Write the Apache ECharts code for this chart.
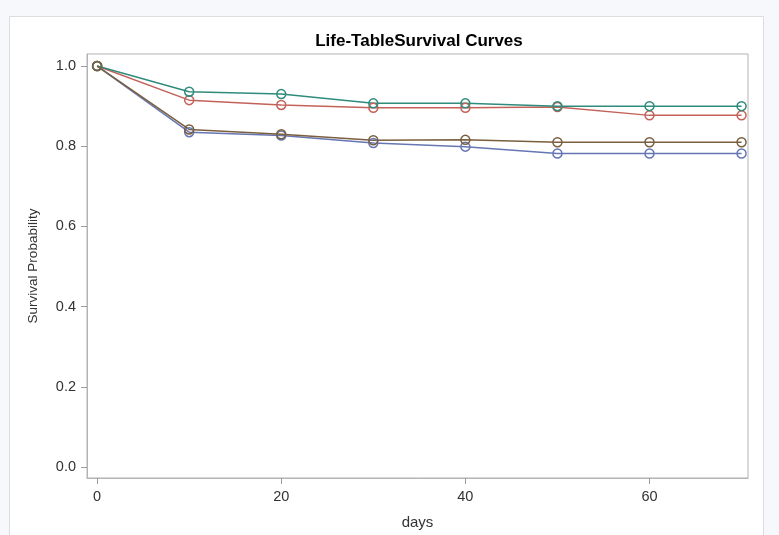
<!DOCTYPE html>
<html>
<head>
<meta charset="utf-8">
<script src="https://cdn.jsdelivr.net/npm/echarts@6/dist/echarts.min.js"></script>
<style>
html,body{margin:0;padding:0;background:#f7f8fb;}
#chart{width:779px;height:535px;}
</style>
</head>
<body>
<div id="chart"></div>
<script>
// Data
const days = [0, 10, 20, 30, 40, 50, 60, 70];
const seriesNames = ['Stratum 1', 'Stratum 2', 'Stratum 3', 'Stratum 4'];
const survBlue  = [1.0, 0.835, 0.827, 0.808, 0.799, 0.782, 0.782, 0.782];
const survRed   = [1.0, 0.915, 0.903, 0.896, 0.896, 0.898, 0.877, 0.877];
const survTeal  = [1.0, 0.936, 0.930, 0.907, 0.907, 0.900, 0.900, 0.900];
const survBrown = [1.0, 0.842, 0.830, 0.815, 0.816, 0.810, 0.810, 0.810];
const xTicks = [0, 20, 40, 60];
const yTicks = [0, 0.2, 0.4, 0.6, 0.8, 1.0];

const colors = ['#6676b3', '#c4625a', '#2f8b7c', '#7a5f3e'];
const allData = [survBlue, survRed, survTeal, survBrown];

const chart = echarts.init(document.getElementById('chart'));
const font = '"Liberation Sans", Arial, sans-serif';

chart.setOption({
  backgroundColor: '#f7f8fb',
  animation: false,
  graphic: [{
    type: 'rect', z: -10, silent: true,
    shape: {x: 9.5, y: 16.5, width: 754, height: 540},
    style: {fill: '#ffffff', stroke: '#dcdde0', lineWidth: 1}
  }],
  title: {
    text: 'Life-TableSurvival Curves',
    left: 414, top: 28, textAlign: 'center',
    textStyle: {fontFamily: font, fontSize: 17, fontWeight: 'bold', color: '#000'}
  },
  grid: {
    left: 87, right: 31, top: 54, bottom: 56,
    show: true, borderColor: '#b3b3b3', borderWidth: 1, backgroundColor: '#fff'
  },
  xAxis: {
    type: 'value', min: -1.1, max: 70.7,
    name: 'days', nameLocation: 'middle', nameGap: 37,
    nameTextStyle: {fontFamily: font, fontSize: 15, color: '#333'},
    axisLine: {show: true, onZero: false, lineStyle: {color: '#b3b3b3'}},
    axisTick: {show: true, customValues: xTicks, length: 6, lineStyle: {color: '#9a9a9a'}},
    axisLabel: {customValues: xTicks, margin: 11, fontFamily: font, fontSize: 14.5, color: '#333'},
    splitLine: {show: false}
  },
  yAxis: {
    type: 'value', min: -0.027, max: 1.03,
    name: 'Survival Probability', nameLocation: 'middle', nameGap: 47, nameRotate: 90,
    nameTextStyle: {fontFamily: font, fontSize: 13.5, color: '#333'},
    axisLine: {show: true, onZero: false, lineStyle: {color: '#b3b3b3'}},
    axisTick: {show: true, customValues: yTicks, length: 6, lineStyle: {color: '#9a9a9a'}},
    axisLabel: {customValues: yTicks, margin: 11, fontFamily: font, fontSize: 14.5, color: '#333',
      formatter: v => v.toFixed(1)},
    splitLine: {show: false}
  },
  series: allData.map((arr, i) => ({
    name: seriesNames[i],
    type: 'line',
    data: days.map((d, j) => [d, arr[j]]),
    symbol: 'circle',
    symbolSize: 9,
    lineStyle: {color: colors[i], width: 1.5},
    itemStyle: {color: 'rgba(255,255,255,0)', borderColor: colors[i], borderWidth: 1.5},
    emphasis: {disabled: true}
  }))
});
</script>
</body>
</html>
